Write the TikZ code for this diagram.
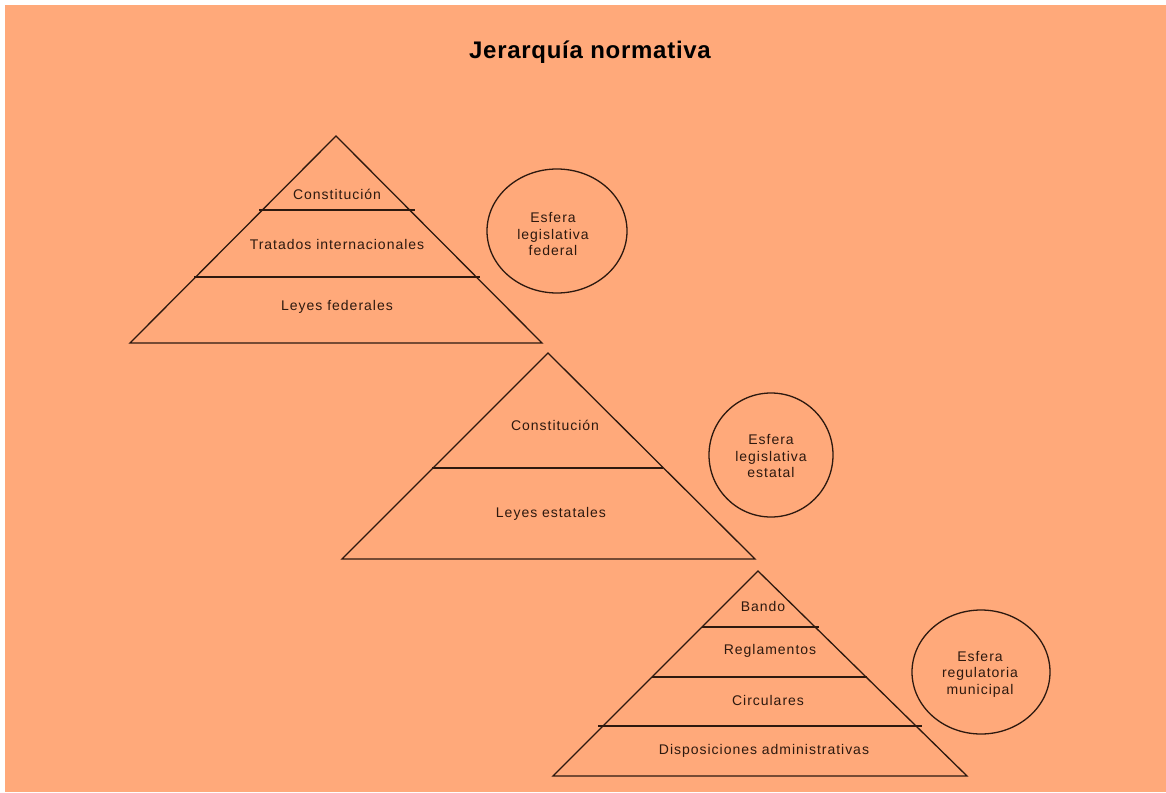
\documentclass[tikz,border=0pt]{standalone}
\usepackage{fontspec}
\setmainfont{Liberation Sans}
\newfontfamily\lblfont[LetterSpace=7]{Liberation Sans}
\newfontfamily\ttlfont[LetterSpace=3]{Liberation Sans}
\usetikzlibrary{shapes.geometric}
\definecolor{bgorange}{RGB}{255,169,122}
\definecolor{ink}{RGB}{45,25,15}
\tikzset{
  outline/.style={draw=ink, line width=1.3pt},
  lbl/.style={text=ink, font=\lblfont\fontsize{14}{16.5}\selectfont, inner sep=0pt, align=center},
  sphere/.style={draw=ink, line width=1.3pt, ellipse, minimum width=#1, minimum height=124pt, inner sep=0pt},
  ttl/.style={text=black, font=\ttlfont\bfseries\fontsize{24}{28}\selectfont, inner sep=0pt}
}
\begin{document}
\begin{tikzpicture}[x=1pt,y=-1pt]
\useasboundingbox (0,0) rectangle (1166,792);
\fill[white] (0,0) rectangle (1166,792);
\fill[bgorange] (5,5) rectangle (1166,792);
\node[ttl] (title) at (590,52) {Jerarquía normativa};
% pyramid 1
\coordinate (a1) at (336,136);
\coordinate (l1) at (130,343);
\coordinate (r1) at (542,343);
\draw[outline] (a1) -- (l1) -- (r1) -- cycle;
\coordinate (p1a) at (259,210); \coordinate (p1b) at (415,210);
\coordinate (p1c) at (194,277); \coordinate (p1d) at (480,277);
\draw[outline] (p1a) -- (p1b);
\draw[outline] (p1c) -- (p1d);
\node[lbl] (t11) at (337,194) {Constitución};
\node[lbl] (t12) at (337,244) {Tratados internacionales};
\node[lbl] (t13) at (337,307) {Leyes federales};
\node[sphere=140pt] (c1) at (557,231) {};
\node[lbl] (c1t) at (553,234) {Esfera\\legislativa\\federal};
% pyramid 2
\coordinate (a2) at (548,353);
\coordinate (l2) at (342,559);
\coordinate (r2) at (755,559);
\draw[outline] (a2) -- (l2) -- (r2) -- cycle;
\coordinate (p2a) at (432,468); \coordinate (p2b) at (663,468);
\draw[outline] (p2a) -- (p2b);
\node[lbl] (t21) at (555,425) {Constitución};
\node[lbl] (t22) at (551,514) {Leyes estatales};
\node[sphere=124pt] (c2) at (771,455) {};
\node[lbl] (c2t) at (771,456) {Esfera\\legislativa\\estatal};
% pyramid 3
\coordinate (a3) at (758,571);
\coordinate (l3) at (553,776);
\coordinate (r3) at (967,776);
\draw[outline] (a3) -- (l3) -- (r3) -- cycle;
\coordinate (p3a) at (702,627); \coordinate (p3b) at (819,627);
\coordinate (p3c) at (652,677); \coordinate (p3d) at (867,677);
\coordinate (p3e) at (598,726); \coordinate (p3f) at (922,726);
\draw[outline] (p3a) -- (p3b);
\draw[outline] (p3c) -- (p3d);
\draw[outline] (p3e) -- (p3f);
\node[lbl] (t31) at (763,606) {Bando};
\node[lbl] (t32) at (770,651) {Reglamentos};
\node[lbl] (t33) at (768,700) {Circulares};
\node[lbl] (t34) at (764,751) {Disposiciones administrativas};
\node[sphere=138pt] (c3) at (981,672) {};
\node[lbl] (c3t) at (980,674) {Esfera\\regulatoria\\municipal};
\end{tikzpicture}
\end{document}
